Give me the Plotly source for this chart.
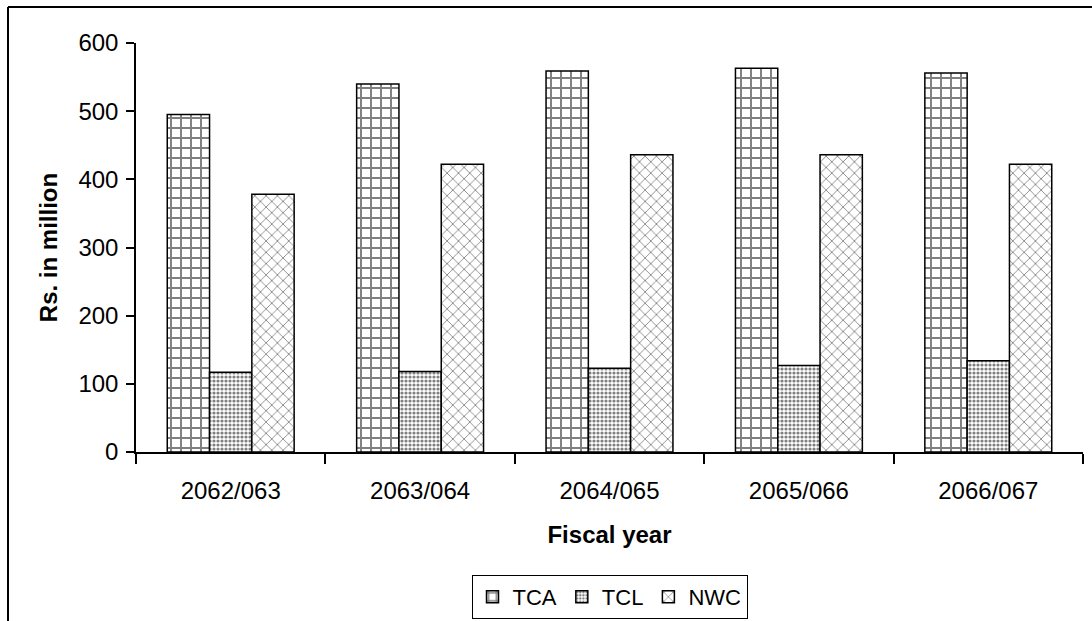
import plotly.graph_objects as go

# Fiscal years and working-capital components (Rs. in million)
years = ["2062/063", "2063/064", "2064/065", "2065/066", "2066/067"]
tca = [495, 540, 559, 563, 556]   # total current assets
tcl = [117, 118, 123, 127, 134]   # total current liabilities
nwc = [378, 422, 436, 436, 422]   # net working capital

y_ticks = [0, 100, 200, 300, 400, 500, 600]

FONT = "Liberation Sans, Arial, sans-serif"

series = [
    ("TCA", tca, dict(shape="+", size=10, solidity=0.35)),
    ("TCL", tcl, dict(shape=".", size=4, solidity=0.5)),
    ("NWC", nwc, dict(shape="x", size=8, solidity=0.2)),
]

fig = go.Figure()
for name, vals, pat in series:
    fig.add_trace(go.Bar(
        name=name, x=years, y=vals,
        marker=dict(
            color="white",
            line=dict(color="black", width=1.5),
            pattern=dict(fgcolor="black", bgcolor="white", fillmode="overlay", **pat),
        ),
    ))

W, H = 1092, 621
L, R, T, B = 136, 9, 43, 169
pw, ph = W - L - R, H - T - B

def px_x(x):
    return (x - L) / pw

def px_y(y):
    return (H - B - y) / ph

fig.update_layout(
    width=W, height=H,
    margin=dict(l=L, r=R, t=T, b=B, autoexpand=False),
    paper_bgcolor="white", plot_bgcolor="white",
    font=dict(family=FONT, size=24, color="black"),
    barmode="group", bargap=0.33, bargroupgap=0,
    showlegend=True,
    legend=dict(
        orientation="h", x=0.5, xanchor="center", y=px_y(619), yanchor="bottom",
        bordercolor="black", borderwidth=1, bgcolor="white",
        font=dict(size=22), itemwidth=30, tracegroupgap=0,
        itemclick=False,
    ),
    xaxis=dict(
        type="category",
        showline=True, linecolor="black", linewidth=1.5,
        ticks="outside", tickson="boundaries", ticklen=10, tickcolor="black", tickwidth=1.5,
        showgrid=False, zeroline=False,
        tickfont=dict(size=24), ticklabelstandoff=16,
        title=dict(text="<b>Fiscal year</b>", font=dict(size=24), standoff=24),
    ),
    yaxis=dict(
        range=[0, 600], tickvals=y_ticks,
        showline=True, linecolor="black", linewidth=1.5,
        ticks="outside", ticklen=8, tickcolor="black", tickwidth=1.5,
        showgrid=False, zeroline=False,
        tickfont=dict(size=24), ticklabelstandoff=3,
        title=dict(text="<b>Rs. in million</b>", font=dict(size=24), standoff=14),
    ),
    shapes=[
        dict(type="line", xref="paper", yref="paper",
             x0=px_x(8), x1=px_x(8), y0=px_y(H + 5), y1=px_y(7),
             line=dict(color="black", width=2)),
        dict(type="line", xref="paper", yref="paper",
             x0=px_x(8), x1=px_x(W + 5), y0=px_y(7), y1=px_y(7),
             line=dict(color="black", width=2)),
    ],
)

fig.write_html("out.html")
